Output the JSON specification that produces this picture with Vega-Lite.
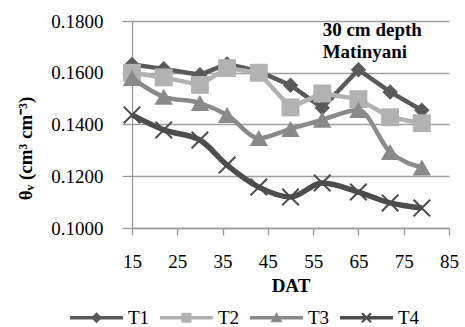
{
  "$schema": "https://vega.github.io/schema/vega-lite/v6.json",
  "width": 317,
  "height": 207,
  "autosize": {"type": "none"},
  "padding": {"left": 132, "top": 21, "right": 16, "bottom": 99},
  "config": {
    "view": {"stroke": null},
    "font": "Liberation Serif, Times New Roman, serif",
    "text": {"font": "Liberation Serif, Times New Roman, serif"},
    "legend": {"labelFont": "Liberation Serif, Times New Roman, serif"},
    "axis": {
      "labelFont": "Liberation Serif, Times New Roman, serif",
      "titleFont": "Liberation Serif, Times New Roman, serif",
      "labelColor": "#000000",
      "titleColor": "#000000",
      "labelFontSize": 19,
      "titleFontSize": 19,
      "titleFontWeight": "bold",
      "domainColor": "#9a9a9a",
      "tickColor": "#9a9a9a",
      "gridColor": "#a0a0a0",
      "domainWidth": 1.3,
      "tickWidth": 1.3,
      "gridWidth": 1.3
    }
  },
  "data": {
    "values": [
      {"DAT": 15, "series": "T1", "theta": 0.1632},
      {"DAT": 22, "series": "T1", "theta": 0.1615},
      {"DAT": 30, "series": "T1", "theta": 0.1592},
      {"DAT": 36, "series": "T1", "theta": 0.1634},
      {"DAT": 43, "series": "T1", "theta": 0.1605},
      {"DAT": 50, "series": "T1", "theta": 0.1552},
      {"DAT": 57, "series": "T1", "theta": 0.1465},
      {"DAT": 65, "series": "T1", "theta": 0.1612},
      {"DAT": 72, "series": "T1", "theta": 0.1526},
      {"DAT": 79, "series": "T1", "theta": 0.1455},
      {"DAT": 15, "series": "T2", "theta": 0.1600},
      {"DAT": 22, "series": "T2", "theta": 0.1582},
      {"DAT": 30, "series": "T2", "theta": 0.1553},
      {"DAT": 36, "series": "T2", "theta": 0.1618},
      {"DAT": 43, "series": "T2", "theta": 0.1600},
      {"DAT": 50, "series": "T2", "theta": 0.1466},
      {"DAT": 57, "series": "T2", "theta": 0.1520},
      {"DAT": 65, "series": "T2", "theta": 0.1498},
      {"DAT": 72, "series": "T2", "theta": 0.1428},
      {"DAT": 79, "series": "T2", "theta": 0.1405},
      {"DAT": 15, "series": "T3", "theta": 0.1580},
      {"DAT": 22, "series": "T3", "theta": 0.1507},
      {"DAT": 30, "series": "T3", "theta": 0.1483},
      {"DAT": 36, "series": "T3", "theta": 0.1437},
      {"DAT": 43, "series": "T3", "theta": 0.1348},
      {"DAT": 50, "series": "T3", "theta": 0.1383},
      {"DAT": 57, "series": "T3", "theta": 0.1418},
      {"DAT": 65, "series": "T3", "theta": 0.1456},
      {"DAT": 72, "series": "T3", "theta": 0.1294},
      {"DAT": 79, "series": "T3", "theta": 0.1234},
      {"DAT": 15, "series": "T4", "theta": 0.1437},
      {"DAT": 22, "series": "T4", "theta": 0.1379},
      {"DAT": 30, "series": "T4", "theta": 0.1340},
      {"DAT": 36, "series": "T4", "theta": 0.1243},
      {"DAT": 43, "series": "T4", "theta": 0.1158},
      {"DAT": 50, "series": "T4", "theta": 0.1120},
      {"DAT": 57, "series": "T4", "theta": 0.1174},
      {"DAT": 65, "series": "T4", "theta": 0.1139},
      {"DAT": 72, "series": "T4", "theta": 0.1097},
      {"DAT": 79, "series": "T4", "theta": 0.1077}
    ]
  },
  "encoding": {
    "x": {
      "field": "DAT",
      "type": "quantitative",
      "scale": {"domain": [15, 85], "nice": false, "zero": false},
      "axis": {
        "values": [15, 25, 35, 45, 55, 65, 75, 85],
        "title": "DAT",
        "grid": false,
        "tickSize": 7,
        "labelPadding": 17,
        "titlePadding": 5,
        "labelFlush": false
      }
    },
    "y": {
      "field": "theta",
      "type": "quantitative",
      "scale": {"domain": [0.1, 0.18], "nice": false, "zero": false},
      "axis": {
        "values": [0.1, 0.12, 0.14, 0.16, 0.18],
        "format": ".4f",
        "grid": true,
        "tickSize": 10,
        "labelPadding": 19,
        "title": "θᵥ (cm³ cm⁻³)",
        "titleX": -107,
        "titleY": 127,
        "titleAlign": "center",
        "titleBaseline": "middle",
        "titleAngle": -90
      }
    }
  },
  "layer": [
    {
      "transform": [{"filter": "datum.series === 'T1'"}],
      "layer": [
        {"mark": {"type": "line", "color": "#5a5a5a", "strokeWidth": 4.5}, "encoding": {}},
        {"mark": {"type": "point", "filled": true, "opacity": 1, "shape": "diamond", "size": 240, "color": "#5a5a5a"}}
      ]
    },
    {
      "transform": [{"filter": "datum.series === 'T2'"}],
      "layer": [
        {"mark": {"type": "line", "color": "#b2b2b2", "strokeWidth": 4.5}, "encoding": {}},
        {"mark": {"type": "point", "filled": true, "opacity": 1, "shape": "square", "size": 320, "color": "#b2b2b2"}}
      ]
    },
    {
      "transform": [{"filter": "datum.series === 'T3'"}],
      "layer": [
        {"mark": {"type": "line", "color": "#8a8a8a", "strokeWidth": 4.5, "interpolate": "monotone"}, "encoding": {}},
        {"mark": {"type": "point", "filled": true, "opacity": 1, "shape": "triangle-up", "size": 340, "color": "#8a8a8a"}}
      ]
    },
    {
      "transform": [{"filter": "datum.series === 'T4'"}],
      "layer": [
        {"mark": {"type": "line", "color": "#4d4d4d", "strokeWidth": 5.5, "interpolate": "monotone"}, "encoding": {}},
        {"mark": {"type": "point", "filled": true, "opacity": 1, "shape": "M-0.84,-1L1,0.84L0.84,1L-1,-0.84ZM0.84,-1L1,-0.84L-0.84,1L-1,0.84Z", "size": 324, "color": "#4d4d4d"}}
      ]
    },
    {
      "mark": {"type": "point", "filled": true, "opacity": 0},
      "encoding": {
        "color": {
          "field": "series",
          "type": "nominal",
          "scale": {"domain": ["T1", "T2", "T3", "T4"], "range": ["#5a5a5a", "#b2b2b2", "#8a8a8a", "#4d4d4d"]},
          "legend": {
            "title": null,
            "orient": "none",
            "direction": "horizontal",
            "legendX": -62,
            "legendY": 270,
            "symbolSize": 2800,
            "symbolOpacity": 1,
            "symbolStrokeWidth": 0,
            "labelFont": "Liberation Serif, Times New Roman, serif",
            "labelFontSize": 19,
            "labelColor": "#000000",
            "labelOffset": 5,
            "columnPadding": 10,
            "padding": 0
          }
        },
        "shape": {
          "field": "series",
          "type": "nominal",
          "scale": {
            "domain": ["T1", "T2", "T3", "T4"],
            "range": [
              "M-1,-0.07H1V0.07H-1ZM0,-0.21L0.21,0L0,0.21L-0.21,0Z",
              "M-1,-0.07H1V0.07H-1ZM-0.19,-0.19H0.19V0.19H-0.19Z",
              "M-1,-0.07H1V0.07H-1ZM0,-0.21L0.23,0.17H-0.23Z",
              "M-1,-0.07H1V0.07H-1ZM-0.14,-0.2L0.2,0.14L0.14,0.2L-0.2,-0.14ZM0.14,-0.2L0.2,-0.14L-0.14,0.2L-0.2,0.14Z"
            ]
          },
          "legend": {
            "title": null,
            "orient": "none",
            "direction": "horizontal",
            "legendX": -62,
            "legendY": 270,
            "symbolSize": 2800,
            "symbolOpacity": 1,
            "symbolStrokeWidth": 0,
            "labelFont": "Liberation Serif, Times New Roman, serif",
            "labelFontSize": 19,
            "labelColor": "#000000",
            "labelOffset": 5,
            "columnPadding": 10,
            "padding": 0
          }
        }
      }
    },
    {
      "transform": [{"filter": "datum.series === 'T1' && datum.DAT === 15"}],
      "mark": {"type": "text", "text": ["30 cm depth", "Matinyani"], "align": "left", "baseline": "alphabetic", "font": "Liberation Serif, Times New Roman, serif", "fontSize": 19, "fontWeight": "bold", "lineHeight": 22, "color": "#000000", "opacity": 1},
      "encoding": {
        "x": {"datum": 57.1, "type": "quantitative"},
        "y": {"datum": 0.1742, "type": "quantitative"}
      }
    }
  ]
}
